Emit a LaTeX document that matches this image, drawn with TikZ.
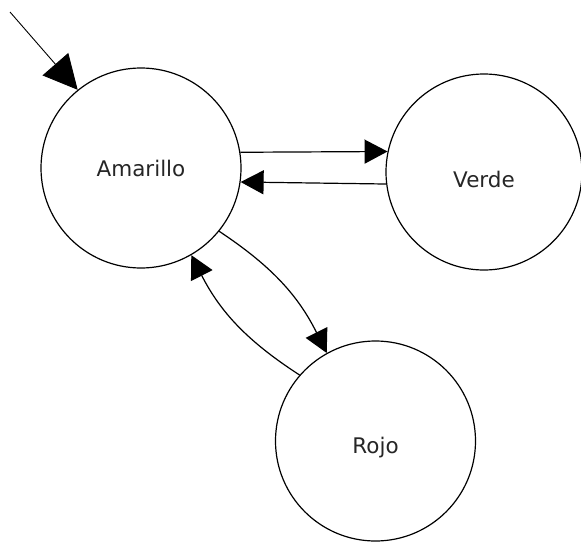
\documentclass[tikz,border=0pt]{standalone}
\usepackage{fontspec}
\setmainfont{DejaVu Sans}
\usetikzlibrary{arrows.meta}
\begin{document}
\begin{tikzpicture}[x=1pt,y=-1pt,
  statebox/.style={circle,draw,line width=1.2pt,inner sep=0pt},
  statelabel/.style={font=\fontsize{21.5}{24}\selectfont,text=black!85},
  trans/.style={line width=1.2pt,-{Triangle[length=23pt,width=24pt]}},
  entry/.style={line width=0.9pt,-{Triangle[length=34pt,width=34pt]}}]
\useasboundingbox (0,0) rectangle (581,541);
% states
\node[statebox,minimum size=200pt] (A) at (141,168) {};
\node[statebox,minimum size=196pt] (V) at (484,172) {};
\node[statebox,minimum size=200pt] (R) at (375.5,441) {};
\node[statelabel] (Alab) at (A.center) {Amarillo};
\node[statelabel] (Vlab) at ([yshift=-7pt]V.center) {Verde};
\node[statelabel] (Rlab) at ([yshift=-7pt]R.center) {Rojo};
% initial arrow
\coordinate (start) at (10,12);
\draw[entry] (start) -- (A.129);
% transitions
\draw[trans] (A.9.9) -- (V.168.8);
\draw[trans] (V.187.6) -- (A.-8.7);
\draw[trans] (A.-39.4) to[bend left=15] (R.119.6);
\draw[trans] (R.139.6) to[bend left=15] (A.-60);
\end{tikzpicture}
\end{document}
